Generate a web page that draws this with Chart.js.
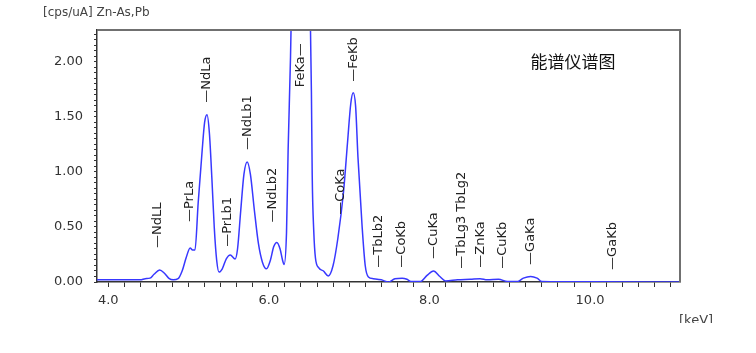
<!DOCTYPE html>
<html>
<head>
<meta charset="utf-8">
<script src="https://cdn.jsdelivr.net/npm/chart.js@4/dist/chart.umd.min.js"></script>
<style>
  html, body { margin: 0; padding: 0; background: #fff; }
  #wrap { width: 756px; height: 353px; position: relative; }
</style>
</head>
<body>
<div id="wrap"><canvas id="spectrum"></canvas></div>
<script>
// spectrum (keV, cps/uA); FeKa top is off scale, peak estimated
const energies = [
  3.86, 4.00, 4.20, 4.40, 4.46, 4.52, 4.57, 4.64, 4.70, 4.76, 4.81, 4.87,
  4.92, 4.97, 5.02, 5.05, 5.08, 5.12, 5.17, 5.20, 5.23, 5.26, 5.29, 5.32,
  5.35, 5.38, 5.42, 5.47, 5.52, 5.58, 5.61, 5.65, 5.69, 5.73, 5.77, 5.82,
  5.87, 5.92, 5.97, 6.02, 6.06, 6.10, 6.14, 6.17, 6.19, 6.22, 6.24, 6.27,
  6.30, 6.40, 6.50, 6.53, 6.54, 6.56, 6.58, 6.62, 6.68, 6.74, 6.80, 6.86,
  6.93, 6.98, 7.02, 7.05, 7.08, 7.11, 7.16, 7.20, 7.24, 7.30, 7.40, 7.49,
  7.57, 7.66, 7.72, 7.77, 7.89, 7.97, 8.05, 8.13, 8.20, 8.35, 8.51, 8.63,
  8.72, 8.86, 8.97, 9.10, 9.17, 9.26, 9.34, 9.40, 10.00, 11.12
];
const counts = [
  0.02, 0.02, 0.02, 0.02, 0.03, 0.035, 0.07, 0.11, 0.08, 0.03, 0.02, 0.03,
  0.10, 0.22, 0.31, 0.29, 0.29, 0.72, 1.20, 1.45, 1.52, 1.35, 0.95, 0.50,
  0.20, 0.09, 0.12, 0.21, 0.245, 0.21, 0.30, 0.65, 0.98, 1.09, 0.98, 0.65,
  0.35, 0.18, 0.12, 0.20, 0.32, 0.36, 0.30, 0.20, 0.16, 0.45, 1.20, 2.05,
  3.2, 5.0, 3.2, 1.73, 0.97, 0.45, 0.22, 0.13, 0.10, 0.055, 0.15, 0.40,
  0.82, 1.27, 1.62, 1.72, 1.60, 1.13, 0.52, 0.15, 0.045, 0.03, 0.02, 0.0,
  0.03, 0.035, 0.025, 0.005, 0.005, 0.06, 0.10, 0.05, 0.01, 0.02, 0.025, 0.03,
  0.02, 0.025, 0.005, 0.005, 0.035, 0.05, 0.035, 0.005, 0.002, 0.0
];

// peak markers: text, energy (keV), bottom of the label (cps/uA)
const peakNames = [
  "—NdLL", "—PrLa", "—NdLa", "—PrLb1", "—NdLb1", "—NdLb2", "FeKa—", "—CoKa",
  "—FeKb", "—TbLb2", "—CoKb", "—CuKa", "—TbLg3 TbLg2", "—ZnKa", "—CuKb",
  "—GaKa", "—GaKb"
];
const peakEnergies = [
  4.61, 5.01, 5.23, 5.49, 5.73, 6.05, 6.40, 6.90,
  7.05, 7.37, 7.65, 8.05, 8.40, 8.64, 8.91,
  9.26, 10.28
];
const peakLabelBase = [
  0.31, 0.545, 1.63, 0.32, 1.20, 0.54, 1.77, 0.61,
  1.82, 0.13, 0.13, 0.21, 0.12, 0.13, 0.12,
  0.155, 0.11
];

const xLabels = [4, 6, 8, 10];

const points = energies.map((e, i) => ({ x: e, y: counts[i] }));

const boxAndText = {
  id: "boxAndText",
  afterDatasetsDraw(chart) {
    const { ctx, chartArea: a, scales } = chart;
    ctx.save();

    // peak labels, rotated to read bottom-up
    ctx.fillStyle = "#222";
    ctx.font = "13px 'DejaVu Sans'";
    ctx.textAlign = "left";
    ctx.textBaseline = "middle";
    peakNames.forEach((name, i) => {
      const px = scales.x.getPixelForValue(peakEnergies[i]);
      const py = scales.y.getPixelForValue(peakLabelBase[i]);
      ctx.save();
      ctx.translate(px, py);
      ctx.rotate(-Math.PI / 2);
      ctx.fillText(name, 0, 0);
      ctx.restore();
    });

    // frame
    ctx.strokeStyle = "#707070";
    ctx.lineWidth = 2;
    ctx.beginPath();
    ctx.moveTo(a.left, a.top);
    ctx.lineTo(a.right, a.top);
    ctx.lineTo(a.right, a.bottom);
    ctx.stroke();

    // headings
    ctx.fillStyle = "#444";
    ctx.font = "12px 'DejaVu Sans'";
    ctx.textBaseline = "middle";
    ctx.fillText("[cps/uA] Zn-As,Pb", 43, 13);

    ctx.fillStyle = "#111";
    ctx.font = "17px 'Noto Sans CJK SC'";
    ctx.textAlign = "center";
    ctx.fillText("能谱仪谱图", 573, 62);

    // unit label, cut at the bottom like the source
    ctx.save();
    ctx.beginPath();
    ctx.rect(640, 300, 116, 23);
    ctx.clip();
    ctx.fillStyle = "#444";
    ctx.font = "13px 'DejaVu Sans'";
    ctx.textAlign = "left";
    ctx.textBaseline = "top";
    ctx.fillText("[keV]", 679, 314);
    ctx.restore();

    ctx.restore();
  }
};

new Chart(document.getElementById("spectrum"), {
  type: "line",
  data: {
    datasets: [{
      data: points,
      borderColor: "#3838ff",
      borderWidth: 1.5,
      pointRadius: 0,
      cubicInterpolationMode: "monotone",
      fill: false
    }]
  },
  options: {
    responsive: true,
    maintainAspectRatio: false,
    animation: false,
    layout: { padding: { top: 30, right: 76, left: 0, bottom: 0 } },
    plugins: {
      legend: { display: false },
      tooltip: { enabled: false },
      title: { display: false }
    },
    scales: {
      x: {
        type: "linear",
        min: 3.86,
        max: 11.12,
        afterFit: s => { s.height = 71; },
        afterBuildTicks: s => {
          const t = [];
          for (let k = 20; k <= 55; k++) t.push({ value: k / 5 });
          s.ticks = t;
        },
        border: { color: "#333", width: 1.5 },
        grid: { drawOnChartArea: false, tickLength: 5, color: "#333" },
        ticks: {
          padding: 6,
          color: "#333",
          font: { family: "DejaVu Sans", size: 13 },
          maxRotation: 0,
          autoSkip: false,
          callback: v => xLabels.includes(Math.round(v * 100) / 100) ? v.toFixed(1) : ""
        }
      },
      y: {
        min: 0,
        max: 2.29,
        afterFit: s => { s.width = 97; },
        afterBuildTicks: s => {
          const t = [];
          for (let k = 0; k <= 45; k++) t.push({ value: k / 20 });
          s.ticks = t;
        },
        border: { color: "#333", width: 1.5 },
        grid: { drawOnChartArea: false, tickLength: 3, color: "#333" },
        ticks: {
          padding: 11,
          color: "#333",
          font: { family: "DejaVu Sans", size: 13 },
          autoSkip: false,
          callback: v => (Math.round(v * 100) % 50 === 0) ? v.toFixed(2) : ""
        }
      }
    }
  },
  plugins: [boxAndText]
});
</script>
</body>
</html>
